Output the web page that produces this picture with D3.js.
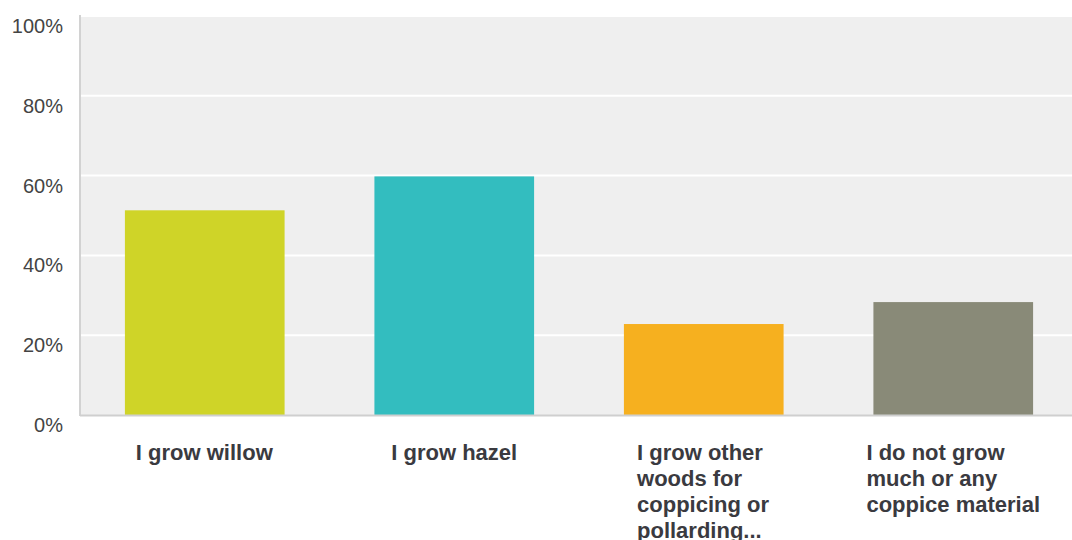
<!DOCTYPE html>
<html>
<head>
<meta charset="utf-8">
<script src="https://cdn.jsdelivr.net/npm/d3@7"></script>
<style>
  body { margin: 0; background: #fff; }
  text { font-family: "Liberation Sans", Arial, sans-serif; }
</style>
</head>
<body>
<div id="chart"></div>
<script>
// data
const categories = ["I grow willow", "I grow hazel", "I grow other woods for coppicing or pollarding...", "I do not grow much or any coppice material"];
const labelLines = [
  ["I grow willow"],
  ["I grow hazel"],
  ["I grow other", "woods for", "coppicing or", "pollarding..."],
  ["I do not grow", "much or any", "coppice material"]
];
const percents = [51.3, 59.8, 22.8, 28.3];
const barColors = ["#cfd428", "#33bdbf", "#f6b01f", "#898a78"];
const yTicks = [0, 20, 40, 60, 80, 100];

const W = 1072, H = 540;
const margin = {top: 16, left: 80, bottom: 125};
const plotRight = 1078;
const plotBottom = H - margin.bottom; // 415

const svg = d3.select("#chart").append("svg")
  .attr("width", W)
  .attr("height", H);

const x = d3.scaleBand()
  .domain(categories)
  .range([margin.left, plotRight])
  .paddingInner(0.36)
  .paddingOuter(0.18);

const y = d3.scaleLinear()
  .domain([0, 100])
  .range([plotBottom, margin.top]);

// plot background
svg.append("rect")
  .attr("x", margin.left)
  .attr("y", margin.top - 1)
  .attr("width", plotRight - margin.left)
  .attr("height", plotBottom - margin.top + 1)
  .attr("fill", "#efefef");

// gridlines
svg.append("g")
  .selectAll("line")
  .data(yTicks.filter(d => d > 0))
  .join("line")
  .attr("x1", margin.left)
  .attr("x2", plotRight)
  .attr("y1", d => y(d))
  .attr("y2", d => y(d))
  .attr("stroke", "#ffffff")
  .attr("stroke-width", 2);

// bars
svg.append("g")
  .selectAll("rect")
  .data(categories)
  .join("rect")
  .attr("x", d => x(d))
  .attr("y", (d, i) => y(percents[i]))
  .attr("width", x.bandwidth())
  .attr("height", (d, i) => y(0) - y(percents[i]))
  .attr("fill", (d, i) => barColors[i]);

// axis lines
svg.append("line")
  .attr("x1", margin.left).attr("x2", margin.left)
  .attr("y1", margin.top - 1).attr("y2", plotBottom + 1)
  .attr("stroke", "#d2d2d2").attr("stroke-width", 2);
svg.append("line")
  .attr("x1", margin.left).attr("x2", plotRight)
  .attr("y1", plotBottom + 0.5).attr("y2", plotBottom + 0.5)
  .attr("stroke", "#cfcfcf").attr("stroke-width", 2);

// y tick labels (sit just below their gridline)
svg.append("g")
  .selectAll("text")
  .data(yTicks)
  .join("text")
  .attr("x", 63)
  .attr("y", d => y(d) + 17)
  .attr("text-anchor", "end")
  .attr("font-size", "20px")
  .attr("fill", "#444")
  .text(d => d + "%");

// x labels: block centred on band, lines left aligned
const labels = svg.append("g")
  .selectAll("text")
  .data(categories)
  .join("text")
  .attr("font-size", "22px")
  .attr("font-weight", "bold")
  .attr("fill", "#3a3a40");

labels.each(function(d, i) {
  const t = d3.select(this);
  labelLines[i].forEach((line, j) => {
    t.append("tspan").attr("x", 0).attr("y", 460 + j * 26).text(line);
  });
  const w = this.getBBox().width;
  t.selectAll("tspan").attr("x", x(d) + x.bandwidth() / 2 - w / 2);
});
</script>
</body>
</html>
